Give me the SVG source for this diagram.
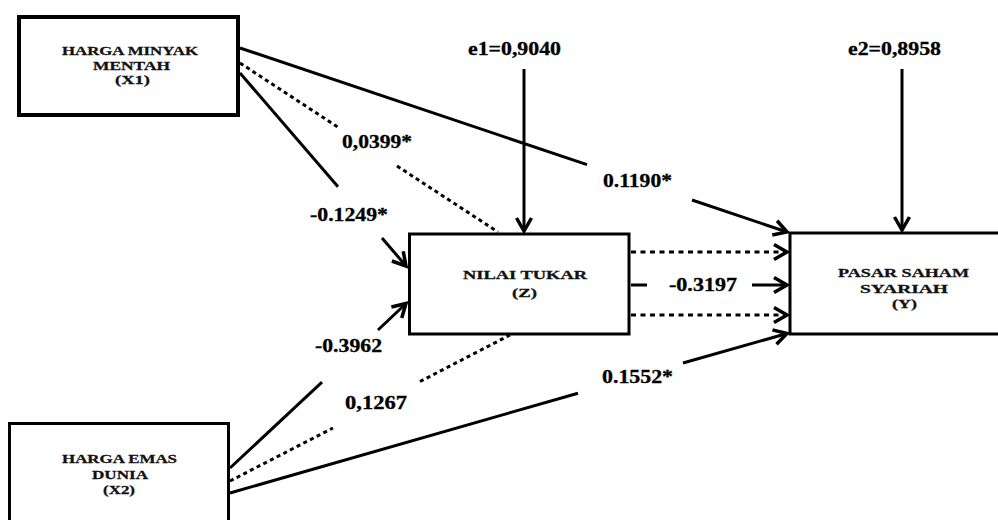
<svg xmlns="http://www.w3.org/2000/svg" width="998" height="520" viewBox="0 0 998 520">
  <style>
    .box { fill: #fff; stroke: #000; stroke-width: 3; }
    .nt { font-family: "Liberation Serif", "Times New Roman", serif; font-weight: bold; font-size: 13.5px; fill: #111; stroke: #111; stroke-width: 0.3; }
    .lbl { font-family: "Liberation Serif", "Times New Roman", serif; font-weight: bold; font-size: 18px; fill: #000; stroke: #000; stroke-width: 0.3; }
    .solid { stroke: #000; stroke-width: 3; fill: none; }
    .dot { stroke: #000; stroke-width: 3; fill: none; stroke-dasharray: 4 3.5; }
    .hdot { stroke: #000; stroke-width: 3; fill: none; stroke-dasharray: 5 4.5; }
  </style>
  <defs>
    <marker id="arrow" markerUnits="userSpaceOnUse" markerWidth="20" markerHeight="20" viewBox="-16 -10 20 20" refX="0" refY="0" orient="auto">
      <path d="M-13,-7.5 L0,0 L-13,7.5" fill="none" stroke="#000" stroke-width="3.5" stroke-linejoin="miter"/>
    </marker>
  </defs>
  <rect width="998" height="520" fill="#fff"/>

  <!-- connectors -->
  <g id="connectors">
    <!-- X1 -> Y -->
    <line class="solid" x1="240" y1="48" x2="587" y2="164.6"/>
    <line class="solid" x1="692" y1="200" x2="787" y2="232" marker-end="url(#arrow)"/>
    <!-- X1 -> Z (indirect, dotted) -->
    <line class="dot" x1="240" y1="63" x2="340" y2="128.5"/>
    <line class="dot" x1="397" y1="166" x2="498" y2="232"/>
    <!-- X1 -> Z -->
    <line class="solid" x1="240" y1="73" x2="338" y2="186.8"/>
    <line class="solid" x1="382" y1="238" x2="406" y2="266" marker-end="url(#arrow)"/>
    <!-- X2 -> Z -->
    <line class="solid" x1="230" y1="468" x2="322" y2="382.2"/>
    <line class="solid" x1="378" y1="330" x2="406" y2="303.5" marker-end="url(#arrow)"/>
    <!-- X2 -> Z (indirect, dotted) -->
    <line class="dot" x1="230" y1="481" x2="333" y2="428"/>
    <line class="dot" x1="420" y1="381.5" x2="510" y2="335"/>
    <!-- X2 -> Y -->
    <line class="solid" x1="230" y1="493" x2="578" y2="393.2"/>
    <line class="solid" x1="683" y1="363" x2="787" y2="333.5" marker-end="url(#arrow)"/>
    <!-- Z -> Y -->
    <line class="hdot" x1="631" y1="252" x2="787" y2="252" marker-end="url(#arrow)"/>
    <line class="solid" x1="631" y1="285" x2="647" y2="285"/>
    <line class="solid" x1="752" y1="285" x2="787" y2="285" marker-end="url(#arrow)"/>
    <line class="hdot" x1="631" y1="315" x2="787" y2="315" marker-end="url(#arrow)"/>
    <!-- error terms -->
    <line class="solid" x1="524" y1="69" x2="524" y2="231" marker-end="url(#arrow)"/>
    <line class="solid" x1="902" y1="69" x2="902" y2="230" marker-end="url(#arrow)"/>
  </g>

  <!-- path coefficients -->
  <g id="labels">
    <text class="lbl" x="468" y="55" textLength="93" lengthAdjust="spacingAndGlyphs">e1=0,9040</text>
    <text class="lbl" x="848" y="55" textLength="93" lengthAdjust="spacingAndGlyphs">e2=0,8958</text>
    <text class="lbl" x="342" y="148" textLength="70" lengthAdjust="spacingAndGlyphs">0,0399*</text>
    <text class="lbl" x="310" y="221" textLength="78" lengthAdjust="spacingAndGlyphs">-0.1249*</text>
    <text class="lbl" x="603" y="187" textLength="69" lengthAdjust="spacingAndGlyphs">0.1190*</text>
    <text class="lbl" x="669" y="291" textLength="68" lengthAdjust="spacingAndGlyphs">-0.3197</text>
    <text class="lbl" x="315" y="352" textLength="67" lengthAdjust="spacingAndGlyphs">-0.3962</text>
    <text class="lbl" x="345" y="409" textLength="62" lengthAdjust="spacingAndGlyphs">0,1267</text>
    <text class="lbl" x="602" y="383" textLength="71" lengthAdjust="spacingAndGlyphs">0.1552*</text>
  </g>

  <g id="node-x1">
    <rect class="box" x="19" y="17" width="219" height="98" style="stroke-width:4"/>
    <text class="nt" x="62" y="55" textLength="136" lengthAdjust="spacingAndGlyphs">HARGA MINYAK</text>
    <text class="nt" x="93" y="70" textLength="77" lengthAdjust="spacingAndGlyphs">MENTAH</text>
    <text class="nt" x="115" y="84" textLength="35" lengthAdjust="spacingAndGlyphs">(X1)</text>
  </g>

  <g id="node-x2">
    <rect class="box" x="9.5" y="423.5" width="219" height="120"/>
    <text class="nt" x="62" y="463" textLength="115" lengthAdjust="spacingAndGlyphs">HARGA EMAS</text>
    <text class="nt" x="92" y="479" textLength="56" lengthAdjust="spacingAndGlyphs">DUNIA</text>
    <text class="nt" x="103" y="494" textLength="32" lengthAdjust="spacingAndGlyphs">(X2)</text>
  </g>

  <g id="node-z">
    <rect class="box" x="409.5" y="234" width="219.5" height="100"/>
    <text class="nt" x="463" y="279" textLength="124" lengthAdjust="spacingAndGlyphs">NILAI TUKAR</text>
    <text class="nt" x="512" y="297" textLength="25" lengthAdjust="spacingAndGlyphs">(Z)</text>
  </g>

  <g id="node-y">
    <rect class="box" x="790" y="233" width="220" height="101"/>
    <text class="nt" x="838" y="277" textLength="131" lengthAdjust="spacingAndGlyphs">PASAR SAHAM</text>
    <text class="nt" x="860" y="293" textLength="88" lengthAdjust="spacingAndGlyphs">SYARIAH</text>
    <text class="nt" x="892" y="308" textLength="25" lengthAdjust="spacingAndGlyphs">(Y)</text>
  </g>
</svg>
